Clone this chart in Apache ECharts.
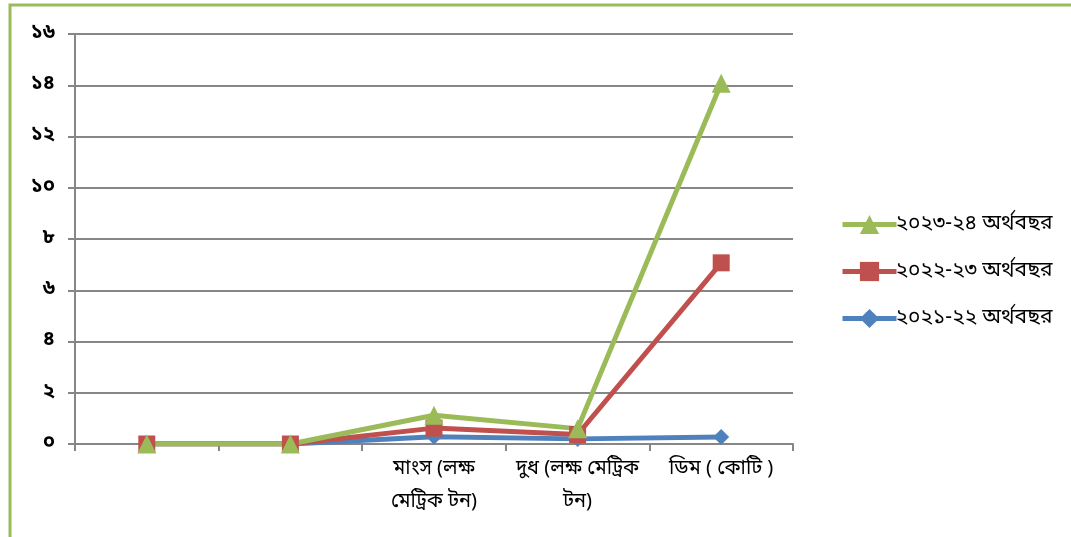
<!DOCTYPE html>
<html><head><meta charset="utf-8">
<script src="https://cdn.jsdelivr.net/npm/echarts@6/dist/echarts.min.js"></script>
<style>html,body{margin:0;padding:0;background:#fff}#c{width:1071px;height:537px}</style>
</head><body><div id="c"></div>
<script>
const categories = ['', '', 'মাংস (লক্ষ\nমেট্রিক টন)', 'দুধ (লক্ষ মেট্রিক\nটন)', 'ডিম ( কোটি )'];
const s2021 = [0, 0, 0.28, 0.2, 0.27];
const s2022 = [0, 0, 0.62, 0.37, 7.07];
const s2023 = [0, 0, 1.12, 0.6, 14.08];
const seriesNames = ['২০২১-২২ অর্থবছর', '২০২২-২৩ অর্থবছর', '২০২৩-২৪ অর্থবছর'];
const yTickLabels = ['০', '২', '৪', '৬', '৮', '১০', '১২', '১৪', '১৬'];

const chart = echarts.init(document.getElementById('c'));
const font = 'Noto Sans Bengali, Noto Sans, sans-serif';
chart.setOption({
  animation: false,
  textStyle: {fontFamily: font},
  graphic: [{type: 'rect', shape: {x: 10, y: 5, width: 1075, height: 540}, style: {fill: 'none', stroke: '#9BBB59', lineWidth: 3}, z: -1}],
  grid: {left: 75, right: 278, top: 34, bottom: 93},
  legend: {
    orient: 'vertical', left: 835, top: 209, itemGap: 26, itemWidth: 54, itemHeight: 24,
    lineStyle: {width: 5},
    data: [seriesNames[2], seriesNames[1], seriesNames[0]],
    textStyle: {fontSize: 21, color: '#000', fontFamily: font, padding: [0, 0, 0, -6]}
  },
  xAxis: {
    type: 'category', data: categories, boundaryGap: true,
    axisLine: {lineStyle: {color: '#868686', width: 2}},
    axisTick: {show: true, length: 7, lineStyle: {color: '#868686', width: 2}},
    axisLabel: {interval: 0, fontSize: 20, color: '#000', lineHeight: 33, margin: 10}
  },
  yAxis: {
    type: 'value', min: 0, max: 16, interval: 2,
    axisLine: {show: true, lineStyle: {color: '#868686', width: 2}},
    axisTick: {show: true, length: 7, lineStyle: {color: '#868686', width: 2}},
    splitLine: {lineStyle: {color: '#868686', width: 2}},
    axisLabel: {fontSize: 20, color: '#000', margin: 20, fontWeight: 'bold',
      formatter: (v) => yTickLabels[Math.round(v / 2)]}
  },
  series: [
    {name: seriesNames[0], type: 'line', data: s2021, symbol: 'diamond', symbolSize: 16,
      lineStyle: {width: 5, color: '#4F81BD'}, itemStyle: {color: '#4F81BD'}},
    {name: seriesNames[1], type: 'line', data: s2022, symbol: 'rect', symbolSize: 17,
      lineStyle: {width: 5, color: '#C0504D'}, itemStyle: {color: '#C0504D'}},
    {name: seriesNames[2], type: 'line', data: s2023, symbol: 'triangle', symbolSize: 19,
      lineStyle: {width: 5, color: '#9BBB59'}, itemStyle: {color: '#9BBB59'}}
  ]
});
</script></body></html>
